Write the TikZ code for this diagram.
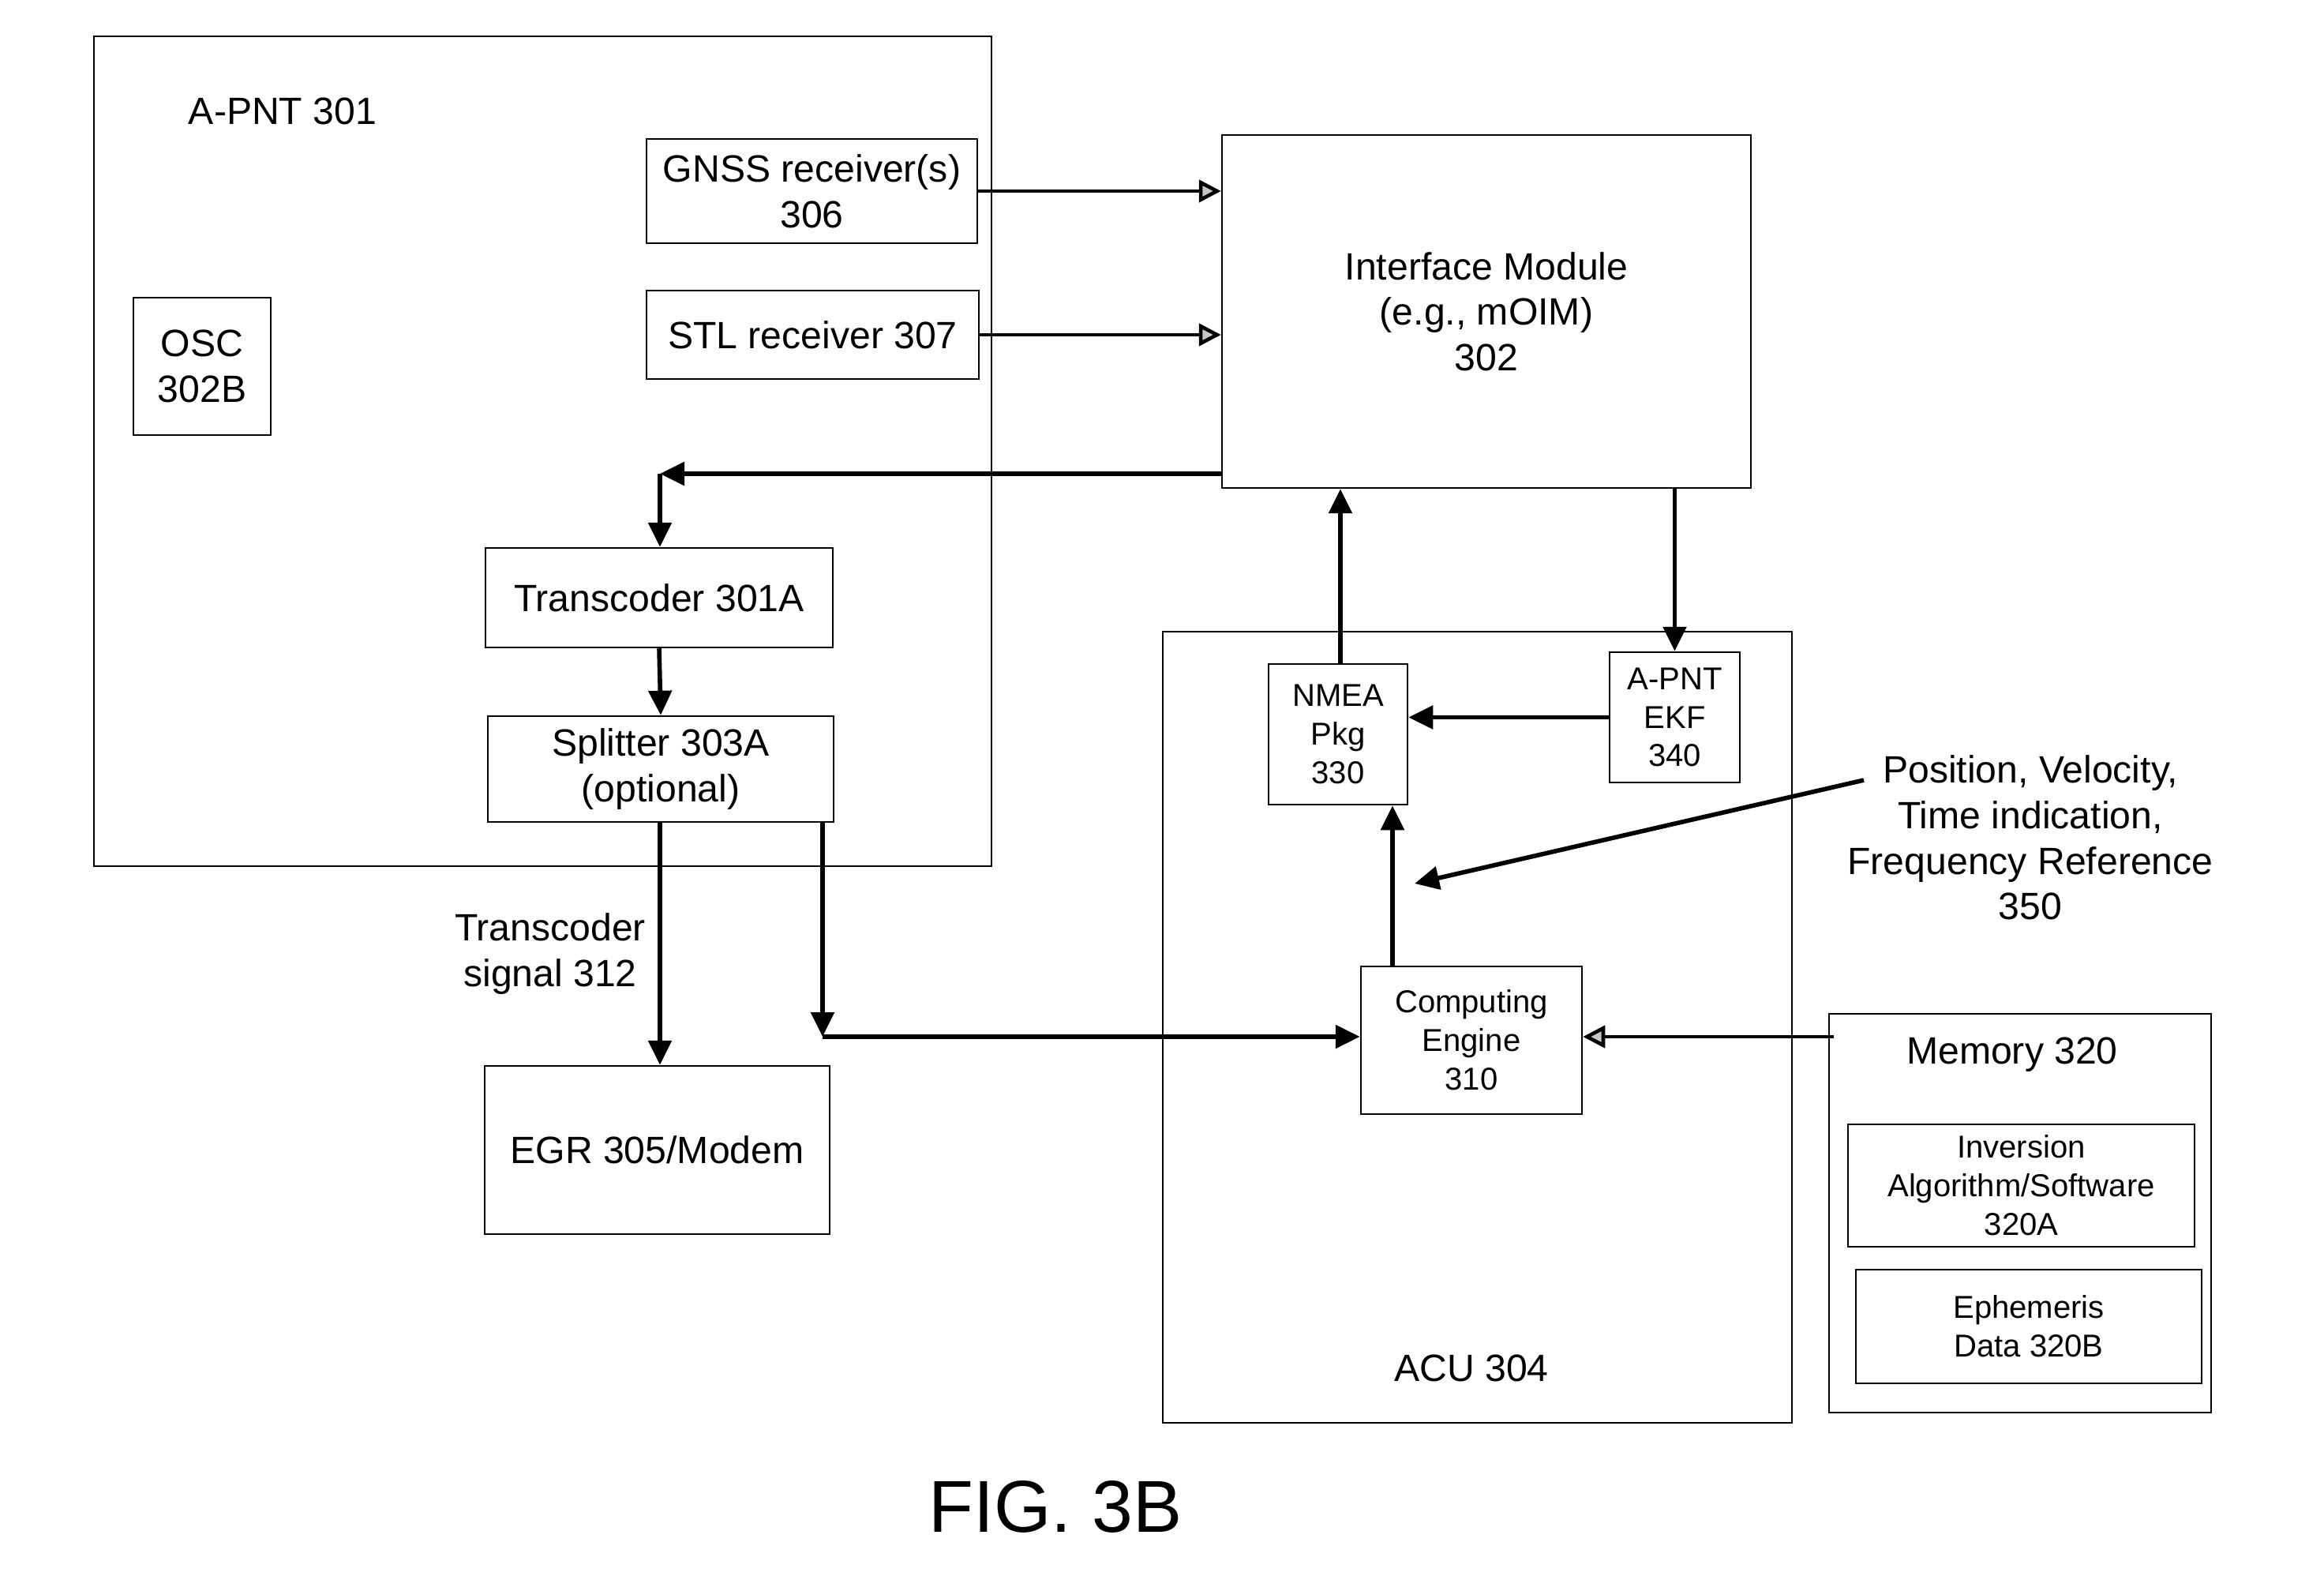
\documentclass[tikz,border=0pt]{standalone}
\usepackage{fontspec}
\setmainfont{Liberation Sans}
\usetikzlibrary{arrows.meta,positioning,calc}
\tikzset{
  box/.style={draw=black, line width=0.7pt, align=center, inner sep=0.5mm, font=\fontsize{13.7}{16.4}\selectfont},
  smallbox/.style={box, font=\fontsize{11.4}{13.9}\selectfont},
  outerbox/.style={draw=black, line width=0.55pt, inner sep=0pt},
  txt/.style={align=center, inner sep=0pt, font=\fontsize{13.7}{16.4}\selectfont},
  arrow/.style={-{Triangle[length=3.1mm, width=2.9mm]}, line width=1.6pt},
  feedarrow/.style={-{Triangle[length=2.8mm, width=2.8mm, fill=gray!45]}, line width=1.3pt}
}
\begin{document}
\begin{tikzpicture}
  \useasboundingbox (0,0) rectangle (29.44,-20.14);
  % A-PNT side
  \node[outerbox, minimum width=11.37cm, minimum height=10.51cm] (apnt) at (6.875,-5.715) {};
  \node[txt] (apntlbl) at (3.58,-1.41) {A-PNT 301};
  \node[box, minimum width=4.19cm, minimum height=1.32cm] (gnss) at (10.285,-2.42) {GNSS receiver(s)\\306};
  \node[box, minimum width=4.21cm, minimum height=1.12cm] (stl) at (10.295,-4.24) {STL receiver 307};
  \node[box, minimum width=1.74cm, minimum height=1.74cm] (osc) at (2.56,-4.64) {OSC\\302B};
  \node[box, minimum width=4.40cm, minimum height=1.26cm] (trans) at (8.35,-7.57) {Transcoder 301A};
  \node[box, minimum width=4.38cm, minimum height=1.34cm] (split) at (8.37,-9.74) {Splitter 303A\\(optional)};
  \node[box, minimum width=4.37cm, minimum height=2.13cm] (egr) at (8.325,-14.565) {EGR 305/Modem};
  \node[txt] (siglbl) at (6.97,-12.08) {Transcoder\\signal 312};

  % interface and ACU
  \node[box, minimum width=6.70cm, minimum height=4.47cm] (iface) at (18.83,-3.945) {Interface Module\\(e.g., mOIM)\\302};
  \node[outerbox, minimum width=7.97cm, minimum height=10.02cm] (acu) at (18.715,-13.01) {};
  \node[txt] (aculbl) at (18.64,-17.33) {ACU 304};
  \node[smallbox, minimum width=1.76cm, minimum height=1.78cm] (nmea) at (16.95,-9.30) {NMEA\\Pkg\\330};
  \node[smallbox, minimum width=1.65cm, minimum height=1.65cm] (ekf) at (21.215,-9.085) {A-PNT\\EKF\\340};
  \node[smallbox, minimum width=2.80cm, minimum height=1.87cm] (ce) at (18.64,-13.175) {Computing\\Engine\\310};
  \node[txt] (pvt) at (25.72,-10.61) {Position, Velocity,\\Time indication,\\Frequency Reference\\350};

  % memory
  \node[outerbox, line width=0.7pt, minimum width=4.84cm, minimum height=5.05cm] (mem) at (25.59,-15.365) {};
  \node[txt] (memlbl) at (25.49,-13.36) {Memory 320};
  \node[smallbox, minimum width=4.39cm, minimum height=1.55cm] (inv) at (25.605,-15.015) {Inversion\\Algorithm/Software\\320A};
  \node[smallbox, minimum width=4.38cm, minimum height=1.44cm] (eph) at (25.70,-16.80) {Ephemeris\\Data 320B};

  \node[txt, font=\fontsize{26.5}{30}\selectfont] (fig) at (13.37,-19.08) {FIG. 3B};

  \coordinate (tcorner) at (8.36,-6.00);
  \coordinate (scorner) at (10.42,-13.13);
  \coordinate (memout) at (23.23,-13.13);
  \coordinate (pvtstart) at (23.61,-9.88);
  \coordinate (pvttip) at (17.92,-11.19);

  \draw[feedarrow] (gnss.east) -- (gnss.east -| iface.west);
  \draw[feedarrow] (stl.east) -- (stl.east -| iface.west);
  \draw[arrow] (iface.west |- tcorner) -- (tcorner);
  \draw[arrow] (tcorner) -- (tcorner |- trans.north);
  \draw[arrow] (trans.south) -- (split.north);
  \draw[arrow] ([xshift=-0.01cm]split.south) -- ([xshift=-0.01cm]split.south |- egr.north);
  \draw[arrow] (split.south -| scorner) -- (scorner);
  \draw[arrow] (scorner) -- (scorner -| ce.west);
  \draw[arrow] ([xshift=0.03cm]nmea.north) -- ([xshift=0.03cm]nmea.north |- iface.south);
  \draw[arrow] (ekf.north |- iface.south) -- (ekf.north);
  \draw[arrow] (ekf.west) -- (ekf.west -| nmea.east);
  \draw[arrow] ([xshift=-1cm]ce.north) -- ([xshift=-1cm]ce.north |- nmea.south);
  \draw[arrow] (pvtstart) -- (pvttip);
  \draw[feedarrow] (memout) -- (memout -| ce.east);
\end{tikzpicture}
\end{document}
